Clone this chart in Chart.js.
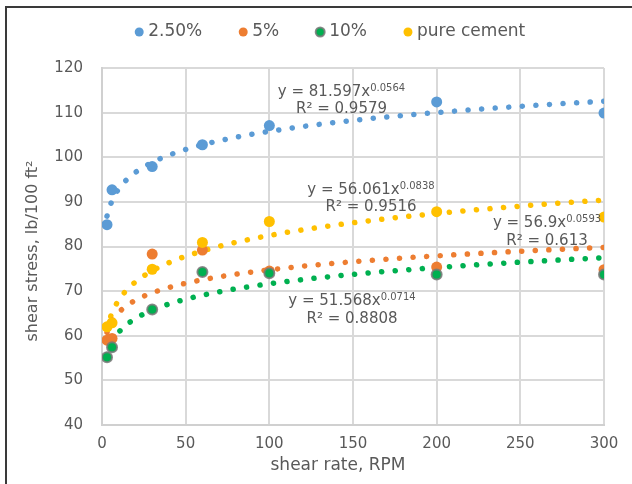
<!DOCTYPE html>
<html>
<head>
<meta charset="utf-8">
<script src="https://cdn.jsdelivr.net/npm/chart.js@4.4.1/dist/chart.umd.min.js"></script>
<style>
html,body{margin:0;padding:0;background:#fff;}
canvas{display:block;}
</style>
</head>
<body>
<canvas id="c" width="632" height="484"></canvas>
<script>
// ---- data ----
const rpm = [3, 6, 30, 60, 100, 200, 300];
const seriesNames = ['2.50%', '5%', '10%', 'pure cement'];
const stress25 = [84.9, 92.7, 97.9, 102.8, 107.1, 112.4, 109.9];
const stress5 = [59.0, 59.4, 78.3, 79.2, 74.5, 75.4, 74.8];
const stress10 = [55.2, 57.4, 65.9, 74.3, 74.0, 73.7, 73.7];
const stressPure = [62.0, 62.9, 74.9, 80.9, 85.6, 87.8, 86.6];
// power trendline coefficients printed on the chart (y = a x^b)
const trendA = [81.597, 56.9, 51.568, 56.061];
const trendB = [0.0564, 0.0593, 0.0714, 0.0838];
const trendR2 = [0.9579, 0.613, 0.8808, 0.9516];
const xTicks = [0, 50, 100, 150, 200, 250, 300];
const yTicks = [40, 50, 60, 70, 80, 90, 100, 110, 120];
const xTitle = 'shear rate, RPM';
const yTitle = 'shear stress, lb/100 ft\u00B2';

// ---- styling / layout ----
const colors = ['#5B9BD5', '#ED7D31', '#00B050', '#FFC000'];
const textColor = '#595959';
const FONT = "'DejaVu Sans', sans-serif";
// centre (px) of equation line and R² line for each trendline label
const labelLayout = [
  {cx: 341.5, eqY: 90, r2Y: 107.5},
  {cx: 547, eqY: 221, r2Y: 239},
  {cx: 352, eqY: 299, r2Y: 317.5},
  {cx: 371, eqY: 188, r2Y: 205.5}
];
const legendLeft = 60;

const allSeries = [stress25, stress5, stress10, stressPure];

const dataSets = allSeries.map((vals, i) => ({
  label: seriesNames[i],
  data: rpm.map((x, k) => ({x: x, y: vals[k]})),
  showLine: false,
  pointRadius: i === 2 ? 5 : 5.5,
  pointHoverRadius: i === 2 ? 5 : 5.5,
  pointBackgroundColor: colors[i],
  backgroundColor: colors[i],
  pointBorderColor: i === 2 ? 'rgba(120,120,120,0.85)' : colors[i],
  borderColor: i === 2 ? 'rgba(120,120,120,0.85)' : colors[i],
  pointBorderWidth: i === 2 ? 2 : 0,
  borderWidth: i === 2 ? 2 : 0,
  order: 4 - i
}));

// trendline sampled along the x range of the data, from the printed equation
const trendX = [];
for (let x = rpm[0]; x <= rpm[rpm.length - 1]; x += 1) trendX.push(x);
const trendSets = trendA.map((a, i) => ({
  label: 'trend ' + seriesNames[i],
  data: trendX.map(x => ({x: x, y: a * Math.pow(x, trendB[i])})),
  showLine: true,
  pointRadius: 0,
  pointHoverRadius: 0,
  borderColor: colors[i],
  backgroundColor: colors[i],
  borderWidth: 5.5,
  borderDash: [0.1, 13.5],
  borderCapStyle: 'round',
  borderJoinStyle: 'round',
  tension: 0,
  fill: false,
  order: 10 + i
}));

function drawEquation(ctx, cx, cy, a, b) {
  const main = 'y = ' + a + 'x';
  const sup = String(b);
  const mainFont = '15px ' + FONT;
  const supFont = '10px ' + FONT;
  ctx.font = mainFont;
  const w1 = ctx.measureText(main).width;
  ctx.font = supFont;
  const w2 = ctx.measureText(sup).width;
  const x0 = cx - (w1 + w2) / 2;
  ctx.textAlign = 'left';
  ctx.textBaseline = 'alphabetic';
  ctx.font = mainFont;
  ctx.fillText(main, x0, cy + 5.5);
  ctx.font = supFont;
  ctx.fillText(sup, x0 + w1, cy + 1);
}

const decor = {
  id: 'decor',
  afterLayout(chart) {
    const lg = chart.legend;
    if (lg) {
      lg.left = legendLeft;
      lg.width = lg.right - lg.left;
    }
  },
  beforeDraw(chart) {
    const ctx = chart.ctx;
    ctx.save();
    ctx.fillStyle = '#ffffff';
    ctx.fillRect(0, 0, chart.width, chart.height);
    ctx.restore();
  },
  afterDraw(chart) {
    const ctx = chart.ctx;
    ctx.save();
    // outer chart border (top + left visible)
    ctx.strokeStyle = '#3a3a3a';
    ctx.lineWidth = 2;
    ctx.beginPath();
    ctx.moveTo(6, chart.height);
    ctx.lineTo(6, 7);
    ctx.lineTo(chart.width, 7);
    ctx.stroke();
    // axis titles
    ctx.fillStyle = textColor;
    ctx.textAlign = 'center';
    ctx.textBaseline = 'middle';
    ctx.font = '17px ' + FONT;
    ctx.fillText(xTitle, 338, 466);
    ctx.translate(33, 251);
    ctx.rotate(-Math.PI / 2);
    ctx.font = '16px ' + FONT;
    ctx.fillText(yTitle, 0, 0);
    ctx.restore();
    // trendline equations
    ctx.save();
    ctx.fillStyle = textColor;
    trendA.forEach((a, i) => {
      const L = labelLayout[i];
      drawEquation(ctx, L.cx, L.eqY, a, trendB[i]);
      ctx.font = '15px ' + FONT;
      ctx.textAlign = 'center';
      ctx.textBaseline = 'alphabetic';
      ctx.fillText('R\u00B2 = ' + trendR2[i], L.cx, L.r2Y + 5.5);
    });
    ctx.restore();
  }
};

Chart.defaults.font.family = FONT;
Chart.defaults.color = textColor;

new Chart(document.getElementById('c'), {
  type: 'scatter',
  data: { datasets: dataSets.concat(trendSets) },
  options: {
    responsive: false,
    animation: false,
    devicePixelRatio: 1,
    layout: { padding: { top: -17, left: 40, right: 28, bottom: 0 } },
    plugins: {
      tooltip: { enabled: false },
      legend: {
        display: true,
        position: 'top',
        align: 'center',
        labels: {
          usePointStyle: true,
          pointStyle: 'circle',
          boxWidth: 1,
          boxHeight: 6.36,
          padding: 40.5,
          color: textColor,
          font: { family: FONT, size: 17 },
          filter: (item) => item.datasetIndex < 4,
          sort: (a, b) => a.datasetIndex - b.datasetIndex
        }
      },
      subtitle: {
        display: true,
        text: '',
        position: 'top',
        weight: 500,
        padding: { top: 0, bottom: 7.5 },
        font: { size: 10, lineHeight: 1 }
      }
    },
    scales: {
      x: {
        type: 'linear',
        min: 0,
        max: 300,
        afterBuildTicks: (s) => { s.ticks = xTicks.map(v => ({value: v})); },
        afterFit: (s) => { s.height = 59; },
        ticks: { color: textColor, font: { family: FONT, size: 15 }, padding: 10, maxRotation: 0 },
        grid: { color: '#d9d9d9', lineWidth: 2, drawTicks: false },
        border: { color: '#d0d0d0', width: 2 }
      },
      y: {
        type: 'linear',
        min: 40,
        max: 120,
        afterBuildTicks: (s) => { s.ticks = yTicks.map(v => ({value: v})); },
        afterFit: (s) => { s.width = 62; },
        ticks: { color: textColor, font: { family: FONT, size: 15 }, padding: 19 },
        grid: { color: '#d9d9d9', lineWidth: 2, drawTicks: false },
        border: { color: '#d0d0d0', width: 2 }
      }
    }
  },
  plugins: [decor]
});
</script>
</body>
</html>
